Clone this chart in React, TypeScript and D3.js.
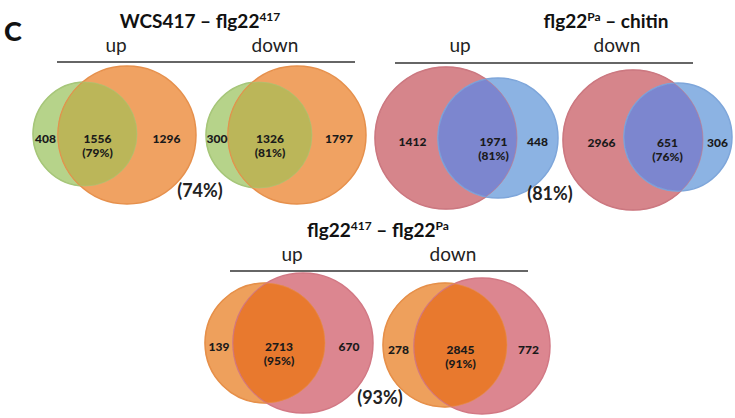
import { useEffect, useRef } from "react";
import * as d3 from "d3";

// comparison groups, each one has an "up" and a "down" venn
const titleParts: [string, boolean][][] = [
  [["WCS417 – flg22", false], ["417", true]],
  [["flg22", false], ["Pa", true], [" – chitin", false]],
  [["flg22", false], ["417", true], [" – flg22", false], ["Pa", true]],
];
const directions = ["up", "down"];

// one entry per venn: group0 up, group0 down, group1 up, ...
const leftOnly = [408, 300, 1412, 2966, 139, 278];
const shared = [1556, 1326, 1971, 651, 2713, 2845];
const rightOnly = [1296, 1797, 448, 306, 670, 772];
const sharedPct = [79, 81, 81, 76, 95, 91];

// overlap of up+down per group
const groupPct = [74, 81, 93];

const W = 735;
const H = 418;
const FONT = "Lato, 'Open Sans', sans-serif";

// circle geometry (venns here are not area-proportional)
const vennLayout = [
  { lx: 85, ly: 134, lr: 52, rx: 127, ry: 135, rr: 69, sdx: 0, ldx: 0 },
  { lx: 259, ly: 135, lr: 53, rx: 297, ry: 135, rr: 69, sdx: 0, ldx: 0 },
  { lx: 446, ly: 138, lr: 71, rx: 498, ry: 138, rr: 60, sdx: 16, ldx: 6 },
  { lx: 633, ly: 140, lr: 70, rx: 678, ry: 137, rr: 54, sdx: 4, ldx: 8 },
  { lx: 265, ly: 343, lr: 60, rx: 303, ry: 343, rr: 70, sdx: 0, ldx: 0 },
  { lx: 445, ly: 345, lr: 62, rx: 482, ry: 346, rr: 68, sdx: 0, ldx: 0 },
];

const groupLayout = [
  { tx: 200, ty: 28, upx: 116, downx: 275, dirY: 52, x1: 57, x2: 355, lineY: 62, px: 200, py: 197 },
  { tx: 606, ty: 28, upx: 460, downx: 617, dirY: 52, x1: 395, x2: 693, lineY: 63, px: 550, py: 200 },
  { tx: 378, ty: 237, upx: 292, downx: 453, dirY: 261, x1: 230, x2: 528, lineY: 271, px: 380, py: 404 },
];

const groupColors = [
  { left: "#b6d38a", leftEdge: "#a6c679", right: "#f0a262", rightEdge: "#e6904c", both: "#bbb659" },
  { left: "#d6858b", leftEdge: "#cc7880", right: "#8cb3e3", rightEdge: "#7ea6da", both: "#7c86cf" },
  { left: "#eea05c", leftEdge: "#e6904a", right: "#dc8690", rightEdge: "#d27884", both: "#e8792e" },
];

export default function App() {
  const svgRef = useRef<SVGSVGElement>(null);

  useEffect(() => {
    if (!svgRef.current) return;
    const svg = d3.select(svgRef.current);
    svg.selectAll("*").remove();
    svg.attr("viewBox", `0 0 ${W} ${H}`);

    svg.append("rect").attr("width", W).attr("height", H).attr("fill", "#fff");
    const defs = svg.append("defs");

    svg
      .append("text")
      .attr("x", 4)
      .attr("y", 41)
      .attr("font-family", FONT)
      .attr("font-weight", 900)
      .attr("font-size", 27)
      .attr("fill", "#111")
      .text("C");

    groupLayout.forEach((g, gi) => {
      const t = svg
        .append("text")
        .attr("x", g.tx)
        .attr("y", g.ty)
        .attr("text-anchor", "middle")
        .attr("font-family", FONT)
        .attr("font-weight", 700)
        .attr("font-size", 19)
        .attr("fill", "#111");
      const parts = titleParts[gi];
      parts.forEach(([s, sup], i) => {
        const ts = t.append("tspan").text(s);
        if (sup) ts.attr("font-size", 12).attr("dy", -7);
        else if (i > 0 && parts[i - 1][1]) ts.attr("dy", 7);
      });

      [g.upx, g.downx].forEach((x, di) => {
        svg
          .append("text")
          .attr("x", x)
          .attr("y", g.dirY)
          .attr("text-anchor", "middle")
          .attr("font-family", FONT)
          .attr("font-size", 19)
          .attr("fill", "#222")
          .text(directions[di]);
      });

      svg
        .append("line")
        .attr("x1", g.x1)
        .attr("x2", g.x2)
        .attr("y1", g.lineY)
        .attr("y2", g.lineY)
        .attr("stroke", "#333")
        .attr("stroke-width", 1.6);

      const col = groupColors[gi];

      [0, 1].forEach((di) => {
        const vi = gi * 2 + di;
        const v = vennLayout[vi];
        const vg = svg.append("g");

        const clipId = `clip-${vi}`;
        defs
          .append("clipPath")
          .attr("id", clipId)
          .append("circle")
          .attr("cx", v.lx)
          .attr("cy", v.ly)
          .attr("r", v.lr);

        vg.append("circle")
          .attr("cx", v.lx)
          .attr("cy", v.ly)
          .attr("r", v.lr)
          .attr("fill", col.left)
          .attr("stroke", col.leftEdge)
          .attr("stroke-width", 1.5);
        vg.append("circle")
          .attr("cx", v.rx)
          .attr("cy", v.ry)
          .attr("r", v.rr)
          .attr("fill", col.right)
          .attr("stroke", col.rightEdge)
          .attr("stroke-width", 1.5);
        vg.append("circle")
          .attr("cx", v.rx)
          .attr("cy", v.ry)
          .attr("r", v.rr)
          .attr("clip-path", `url(#${clipId})`)
          .attr("fill", col.both);
        vg.append("circle")
          .attr("cx", v.lx)
          .attr("cy", v.ly)
          .attr("r", v.lr)
          .attr("fill", "none")
          .attr("stroke", col.leftEdge)
          .attr("stroke-opacity", 0.6)
          .attr("stroke-width", 1);
        vg.append("circle")
          .attr("cx", v.rx)
          .attr("cy", v.ry)
          .attr("r", v.rr)
          .attr("fill", "none")
          .attr("clip-path", `url(#${clipId})`)
          .attr("stroke", col.rightEdge)
          .attr("stroke-opacity", 0.6)
          .attr("stroke-width", 1);

        // label x: middle of each region along the centre line
        const lEdgeL = v.lx - v.lr;
        const lEdgeR = v.lx + v.lr;
        const rEdgeL = v.rx - v.rr;
        const rEdgeR = v.rx + v.rr;
        const xs = [
          (lEdgeL + rEdgeL) / 2 + v.ldx,
          (rEdgeL + lEdgeR) / 2 + v.sdx,
          (lEdgeR + rEdgeR) / 2,
        ];
        const vals = [leftOnly[vi], shared[vi], rightOnly[vi]];
        const cy = (v.ly + v.ry) / 2;

        vals.forEach((val, k) => {
          vg.append("text")
            .attr("x", xs[k])
            .attr("y", cy + 8)
            .attr("text-anchor", "middle")
            .attr("font-family", FONT)
            .attr("font-weight", 900)
            .attr("font-size", 12)
            .attr("fill", "#1a1a1a")
            .text(String(val));
        });
        vg.append("text")
          .attr("x", xs[1])
          .attr("y", cy + 22)
          .attr("text-anchor", "middle")
          .attr("font-family", FONT)
          .attr("font-weight", 900)
          .attr("font-size", 12)
          .attr("fill", "#1a1a1a")
          .text(`(${sharedPct[vi]}%)`);
      });

      svg
        .append("text")
        .attr("x", g.px)
        .attr("y", g.py)
        .attr("text-anchor", "middle")
        .attr("font-family", FONT)
        .attr("font-weight", 700)
        .attr("font-size", 18)
        .attr("fill", "#222")
        .text(`(${groupPct[gi]}%)`);
    });
  }, []);

  return (
    <svg
      ref={svgRef}
      width={W}
      height={H}
      style={{ position: "absolute", left: 0, top: 0, display: "block" }}
    />
  );
}
